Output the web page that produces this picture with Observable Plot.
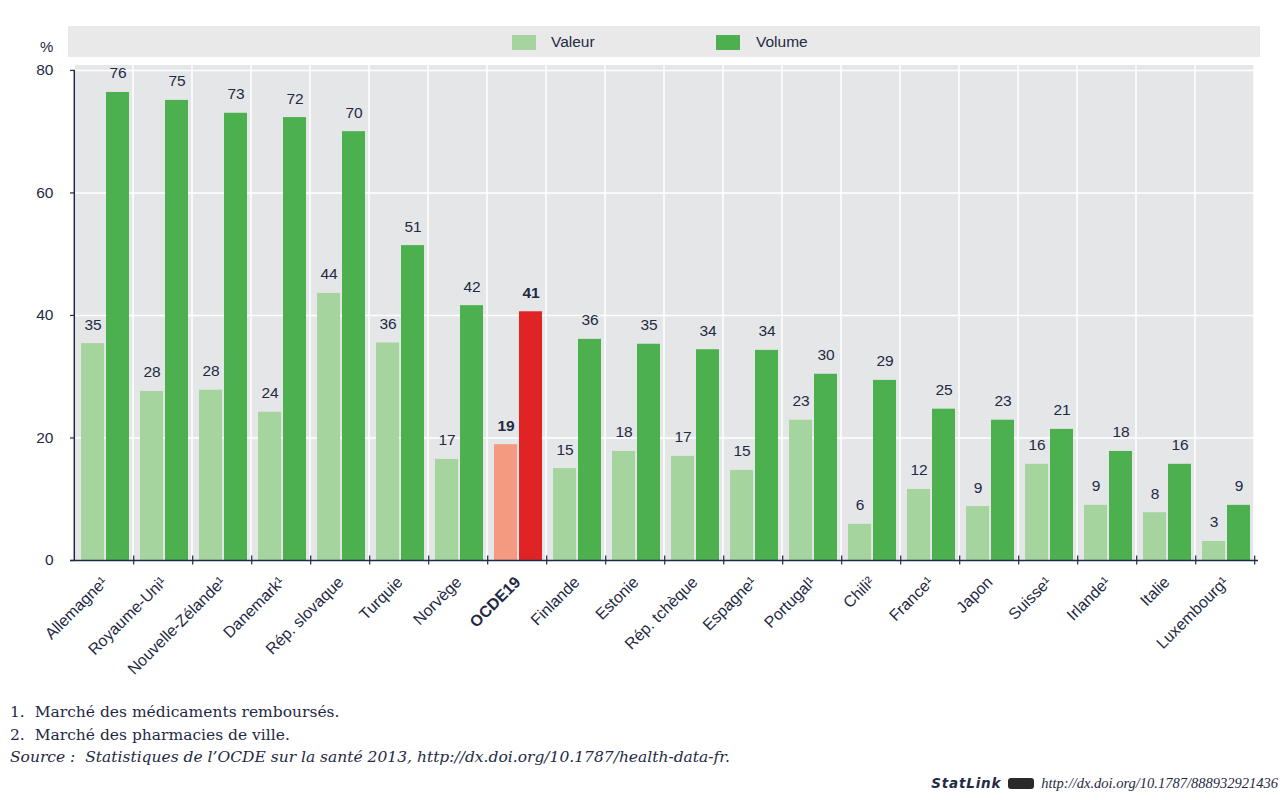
<!DOCTYPE html>
<html>
<head>
<meta charset="utf-8">
<script src="https://cdn.jsdelivr.net/npm/d3@7"></script>
<script src="https://cdn.jsdelivr.net/npm/@observablehq/plot@0.6"></script>
<style>
  html, body { margin: 0; padding: 0; background: #fff; }
  body { width: 1281px; height: 800px; position: relative; overflow: hidden;
         font-family: "Liberation Sans", Arial, sans-serif; color: #1f2a44; }
  #legend { position: relative; height: 57px; }
  #band { position: absolute; left: 68px; top: 26px; width: 1192px; height: 31px; background: #e9e9ea; }
  .sw { position: absolute; top: 35px; width: 24px; height: 15px; }
  .lt { position: absolute; top: 33px; font-size: 15.5px; line-height: 18px; }
  #pct { position: absolute; left: 40px; top: 38px; font-size: 15px; line-height: 18px; }
  #notes { position: absolute; left: 10px; top: 701px; font-family: "DejaVu Serif", "Liberation Serif", serif; font-size: 15.5px; line-height: 22.5px; color: #1f2a44; }
  #statlink { position: absolute; right: 3px; top: 773px; font-family: "Liberation Serif", "DejaVu Serif", serif; font-size: 14.5px; line-height: 20px; font-style: italic; color: #1f2a44; white-space: nowrap; }
  #statlink b { font-family: "DejaVu Sans", sans-serif; font-style: italic; font-size: 13.5px; letter-spacing: 0.8px; }
  #icon { display: inline-block; width: 26px; height: 11px; background: #2a2a2a; border-radius: 3px; vertical-align: -1px; margin: 0 7px 0 7px; }
</style>
</head>
<body>
<div id="legend">
  <div id="band"></div>
  <div id="pct">%</div>
  <div class="sw" id="sw1" style="left:512px"></div>
  <div class="lt" style="left:551px">Valeur</div>
  <div class="sw" id="sw2" style="left:716px"></div>
  <div class="lt" style="left:756px">Volume</div>
</div>
<div id="chart"></div>
<div id="notes">
  <div>1.&nbsp; Marché des médicaments remboursés.</div>
  <div>2.&nbsp; Marché des pharmacies de ville.</div>
  <div style="font-style:italic">Source : &nbsp;Statistiques de l’OCDE sur la santé 2013, http://dx.doi.org/10.1787/health-data-fr.</div>
</div>
<div id="statlink"><b>StatLink</b><span id="icon"></span>http://dx.doi.org/10.1787/888932921436</div>
<script>
// ---- data ----
const categories = ["Allemagne","Royaume-Uni","Nouvelle-Zélande","Danemark","Rép. slovaque","Turquie","Norvège","OCDE19","Finlande","Estonie","Rép. tchèque","Espagne","Portugal","Chili","France","Japon","Suisse","Irlande","Italie","Luxembourg"];
const notes = ["¹","¹","¹","¹","","","","","","","","¹","¹","²","¹","","¹","¹","","¹"];
const valeur = [35.4, 27.6, 27.8, 24.2, 43.6, 35.5, 16.5, 18.9, 15.0, 17.8, 17.0, 14.7, 22.9, 5.9, 11.6, 8.8, 15.7, 9.0, 7.8, 3.1];
const volume = [76.4, 75.1, 73.0, 72.3, 70.0, 51.4, 41.6, 40.6, 36.1, 35.3, 34.4, 34.3, 30.4, 29.4, 24.7, 22.9, 21.4, 17.8, 15.7, 9.0];
const yTicks = [0, 20, 40, 60, 80];
const highlight = "OCDE19";

const colValeur = "#a6d49e", colVolume = "#4cb04e";
const colValeurH = "#f39a80", colVolumeH = "#e02426";
document.getElementById("sw1").style.background = colValeur;
document.getElementById("sw2").style.background = colVolume;

const rows = categories.map((c, i) => ({country: c, label: c + notes[i], valeur: valeur[i], volume: volume[i]}));

const W = 1281, H = 638, mL = 70, mR = 1281 - 1258, mT = 8, mB = 135;
const bw = (W - mL - mR) / categories.length;
const navy = "#1f2a44";
const font = '"Liberation Sans", Arial, sans-serif';

const isH = d => d.country === highlight;
const notH = d => d.country !== highlight;
const fmt = d3.format(".0f");

const chart = Plot.plot({
  width: W, height: H,
  marginLeft: mL, marginRight: mR, marginTop: mT, marginBottom: mB,
  style: {fontFamily: font, fontSize: "15px", color: navy, background: "#fff"},
  x: {type: "band", domain: categories, padding: 0, axis: null},
  y: {domain: [0, 80.8], axis: null},
  marks: [
    // background cells with white separators
    Plot.cell(categories, {x: d => d, fill: "#e5e6e8", insetLeft: 0.75, insetRight: 0.75}),
    Plot.ruleY(yTicks.filter(t => t > 0), {stroke: "#fff", strokeWidth: 1.5}),
    // bars
    Plot.barY(rows, {x: "country", y: "valeur", fill: d => isH(d) ? colValeurH : colValeur, insetLeft: 7, insetRight: 28.9}),
    Plot.barY(rows, {x: "country", y: "volume", fill: d => isH(d) ? colVolumeH : colVolume, insetLeft: 32, insetRight: 4}),
    // value labels
    Plot.text(rows.filter(notH), {x: "country", y: "valeur", text: d => fmt(d.valeur), dx: -11, dy: -19, fill: navy, fontSize: 15.5}),
    Plot.text(rows.filter(notH), {x: "country", y: "volume", text: d => fmt(d.volume), dx: 14, dy: -19, fill: navy, fontSize: 15.5}),
    Plot.text(rows.filter(isH), {x: "country", y: "valeur", text: d => fmt(d.valeur), dx: -11, dy: -19, fill: navy, fontSize: 15.5, fontWeight: "bold"}),
    Plot.text(rows.filter(isH), {x: "country", y: "volume", text: d => fmt(d.volume), dx: 14, dy: -19, fill: navy, fontSize: 15.5, fontWeight: "bold"}),
    // axes lines
    Plot.ruleY([0], {stroke: navy, strokeWidth: 1.5}),
    Plot.ruleX([categories[0]], {y1: 0, y2: 80, dx: -bw / 2, stroke: navy, strokeWidth: 1.5}),
    // y axis ticks (inward) and labels
    Plot.axisY(yTicks, {anchor: "left", tickSize: 5, dx: 5, text: null, label: null, stroke: navy, strokeWidth: 1.2}),
    Plot.axisY(yTicks, {anchor: "left", tickSize: 0, tickPadding: 17, label: null, fill: navy, fontSize: 15.5}),
    // x boundary ticks
    Plot.axisX(categories, {anchor: "bottom", tickSize: 9, dy: -4.5, dx: bw / 2, text: null, label: null, stroke: navy, strokeWidth: 1.2}),
    // x labels
    Plot.text(rows.filter(notH), {x: "country", y: 0, text: "label", rotate: -45, textAnchor: "end", dx: 1, dy: 19, fill: navy, fontSize: 16}),
    Plot.text(rows.filter(isH), {x: "country", y: 0, text: "label", rotate: -45, textAnchor: "end", dx: 1, dy: 19, fill: navy, fontSize: 16, fontWeight: "bold"})
  ]
});
document.getElementById("chart").appendChild(chart);
</script>
</body>
</html>
